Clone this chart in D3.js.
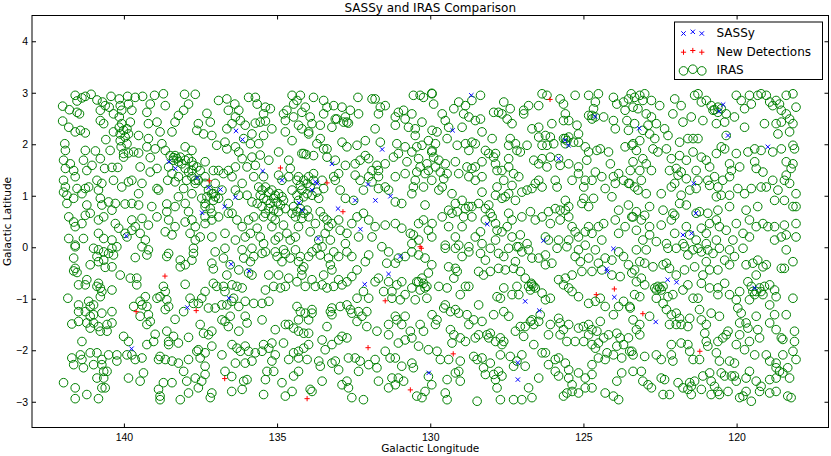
<!DOCTYPE html>
<html>
<head>
<meta charset="utf-8">
<script src="https://cdn.jsdelivr.net/npm/d3@7/dist/d3.min.js"></script>
<style>
  body { margin: 0; background: #fff; }
  svg { font-family: "DejaVu Sans", sans-serif; }
  .tick line { stroke: #000; }
  .tick text { font-size: 10.5px; fill: #000; }
  .domain { display: none; }
</style>
</head>
<body>
<div id="chart"></div>
<script>
// axis ticks
const lonTicks = [140, 135, 130, 125, 120];
const latTicks = [-3, -2, -1, 0, 1, 2, 3, 4];

// SASSy detections (galactic lon, lat)
const sassy = [
  [136.34,2.26],[136.13,2.09],[138.53,1.66],[138.32,1.53],[137.61,1.35],[137.23,1.16],
  [136.85,1.12],[136.71,0.79],[137.45,0.67],[139.92,0.22],[135.47,1.48],[134.84,1.30],
  [133.21,1.62],[131.57,1.90],[133.69,1.24],[133.86,1.11],[133.75,1.27],[134.29,0.86],
  [134.18,0.72],[133.01,0.75],[132.45,0.91],[132.03,1.22],[131.79,0.91],[131.30,0.99],
  [132.28,0.35],[133.66,0.17],[136.36,0.97],[128.66,2.95],[129.27,2.27],[124.62,2.54],
  [125.60,2.08],[125.49,1.98],[125.81,1.72],[128.14,0.45],[126.30,0.13],[123.18,2.31],
  [120.44,2.77],[120.57,2.64],[120.28,2.17],[118.98,1.95],[121.40,1.24],[121.33,0.66],
  [121.75,0.24],[121.47,0.27],[139.75,-1.97],[137.93,-1.17],[136.50,-0.33],[136.57,-0.99],
  [135.92,-0.46],[132.14,-0.72],[131.36,-0.52],[130.98,-0.18],[130.05,-2.44],[124.02,-0.03],
  [124.24,-0.42],[124.22,-0.47],[123.99,-0.97],[126.90,-1.05],[126.44,-1.23],[127.14,-2.24],
  [127.14,-2.57],[122.25,-0.63],[121.96,-0.68],[122.64,-1.45],[119.41,-0.79]
];

// new detections (galactic lon, lat)
const newDetections = [
  [137.21,1.29],[134.89,1.54],[133.37,1.25],[132.85,0.69],[130.33,0.01],[126.09,2.87],
  [138.66,-0.56],[139.60,-1.25],[137.64,-1.23],[136.71,-2.55],[130.29,-0.02],[131.47,-1.04],
  [132.03,-1.95],[130.65,-2.77],[134.02,-2.94],[129.25,-2.07],[121.20,-2.02],[123.99,-0.81],
  [124.58,-0.92],[123.06,-1.29]
];

// IRAS sources, split by sky region (galactic lon, lat)
const irasNorthEast = [
  [142.0,2.74],[141.78,2.67],[141.59,2.95],[141.53,2.84],[141.37,2.90],[141.26,2.93],[141.07,2.97],[140.88,2.86],
  [140.70,2.82],[140.42,2.93],[140.15,2.88],[140.12,2.75],[139.88,2.93],[139.63,2.91],[139.39,2.93],[139.14,2.78],
  [139.0,2.95],[138.71,2.98],[138.65,2.75],[138.02,2.97],[137.89,2.78],[137.67,2.97],[136.91,2.85],[136.64,2.88],
  [142.0,2.45],[141.53,2.62],[141.45,2.59],[140.77,2.66],[140.61,2.75],[140.48,2.72],[140.34,2.59],[140.07,2.66],
  [139.85,2.78],[139.74,2.66],[139.25,2.62],[139.20,2.40],[138.92,2.43],[138.33,2.43],[138.22,2.56],[138.05,2.66],
  [137.29,2.60],[137.18,2.43],[136.59,2.66],[141.80,2.33],[141.59,2.24],[141.26,2.22],[141.42,2.27],[140.77,2.46],
  [140.66,2.40],[140.15,2.53],[140.07,2.40],[139.90,2.30],[139.79,2.43],[140.12,2.20],[140.34,2.24],[140.12,2.07],
  [139.96,2.14],[139.90,2.01],[139.52,2.17],[139.20,2.11],[138.82,2.24],[138.43,2.24],[137.62,2.27],[137.40,2.20],
  [137.13,2.17],[137.57,2.40],[136.64,2.30],[141.93,2.01],[141.91,1.88],[141.26,1.88],[140.93,1.87],[140.59,2.09],
  [140.45,1.88],[140.09,1.95],[140.01,1.82],[139.85,1.83],[139.68,1.85],[139.52,1.83],[139.25,1.95],[138.98,1.91],
  [138.76,2.01],[138.65,1.88],[139.14,1.74],[138.33,1.78],[138.16,1.75],[138.0,1.95],[137.78,1.88],[137.35,1.66],
  [136.97,1.98],[136.64,1.91],[136.70,2.04],[141.97,1.69],[141.91,1.53],[141.75,1.62],[141.64,1.49],[141.59,1.37],
  [141.32,1.69],[141.21,1.49],[141.04,1.59],[140.77,1.72],[140.63,1.53],[140.39,1.55],[140.20,1.55],[140.01,1.75],
  [139.47,1.56],[139.14,1.46],[138.92,1.53],[138.54,1.56],[138.38,1.69],[138.43,1.43],[138.22,1.37],[138.0,1.53],
  [137.78,1.49],[137.57,1.30],[137.35,1.37],[137.08,1.49],[136.91,1.49],[136.75,1.43],[136.59,1.49],[141.97,1.30],
  [141.91,1.17],[141.86,1.01],[141.53,1.14],[141.37,1.04],[141.26,1.14],[141.15,1.17],[140.88,1.30],[140.83,1.11],
  [140.72,1.24],[140.34,1.30],[140.07,1.17],[139.85,1.27],[139.74,1.30],[139.52,1.04],[139.41,1.24],[138.92,1.14],
  [138.87,1.11],[138.57,1.30],[138.33,1.27],[138.05,1.14],[137.95,1.30],[137.67,1.24],[137.78,1.04],[137.02,1.24],
  [137.08,1.04],[136.80,1.11],[141.97,1.07],[141.86,0.85],[141.64,0.95],[141.21,0.82],[141.10,0.66],[140.77,0.95],
  [140.72,0.82],[140.50,0.88],[140.28,0.85],[139.96,0.84],[139.74,0.85],[139.52,0.82],[139.09,0.79],[138.60,0.84],
  [138.33,0.79],[138.22,0.98],[138.0,0.85],[137.89,0.69],[137.35,0.79],[137.08,0.91],[136.91,0.95],[136.59,0.85],
  [141.80,0.59],[141.64,0.49],[141.59,0.40],[141.37,0.46],[141.26,0.62],[140.83,0.53],[140.66,0.59],[140.39,0.72],
  [140.28,0.46],[140.17,0.37],[139.74,0.53],[139.63,0.40],[139.41,0.56],[139.20,0.43],[138.92,0.59],[138.60,0.69],
  [138.54,0.53],[138.33,0.40],[138.0,0.49],[137.78,0.53],[137.67,0.40],[137.35,0.46],[137.13,0.53],[136.91,0.59],
  [136.59,0.66],[141.80,0.17],[141.59,0.04],[141.32,0.17],[140.83,0.27],[140.66,0.17],[140.39,0.14],[139.96,0.27],
  [139.90,0.20],[139.74,0.33],[139.47,0.27],[139.30,0.14],[138.65,0.30],[138.43,0.24],[137.84,0.27],[137.67,0.14],
  [137.51,0.20],[137.13,0.20],[136.70,0.27],[138.49,1.78],[138.38,1.74],[138.27,1.72],[138.22,1.66],[138.11,1.62],
  [138.0,1.69],[137.89,1.72],[137.78,1.66],[137.73,1.59],[137.62,1.56],[137.51,1.49],[137.89,1.46],[137.78,1.37],
  [137.67,1.30],[137.35,1.24],[137.24,1.11],[137.13,1.04],[137.02,0.98],[137.29,0.98],[137.46,0.95],[137.35,0.85],
  [137.18,0.75],[137.13,0.66],[137.35,0.59],[140.01,2.27],[140.15,2.33],[139.85,2.20]
];

const irasNorthCentral = [
  [136.38,2.78],[136.25,2.66],[136.36,2.53],[135.93,2.91],[135.71,2.91],[135.65,2.78],[135.38,2.72],[135.22,2.69],
  [135.44,2.59],[134.79,2.59],[134.68,2.66],[134.51,2.95],[134.46,2.78],[134.35,2.85],[134.24,2.95],[134.19,2.62],
  [134.08,2.72],[133.81,2.91],[133.48,2.85],[133.37,2.72],[133.48,2.59],[133.15,2.75],[133.05,2.49],[132.88,2.72],
  [132.72,2.43],[132.77,2.53],[132.61,2.66],[132.34,2.59],[132.36,2.91],[131.90,2.88],[131.80,2.88],[131.69,2.59],
  [131.63,2.72],[131.47,2.75],[131.14,2.53],[131.04,2.62],[130.87,2.66],[130.60,2.59],[130.55,2.95],[130.33,2.95],
  [129.95,2.99],[130.22,2.91],[136.47,2.40],[136.20,2.46],[136.04,2.37],[135.71,2.41],[135.55,2.43],[135.38,2.45],
  [134.73,2.46],[134.46,2.53],[133.92,2.53],[133.86,2.40],[134.30,2.37],[134.19,2.30],[133.97,2.20],[133.59,2.37],
  [133.21,2.33],[133.10,2.49],[132.83,2.43],[132.67,2.41],[131.80,2.30],[131.14,2.37],[130.82,2.49],[130.71,2.33],
  [130.27,2.43],[130.49,2.30],[135.17,2.30],[135.44,2.17],[135.82,2.20],[135.87,2.01],[136.36,1.95],[136.09,2.11],
  [135.60,2.01],[134.73,2.24],[134.51,2.07],[134.13,1.82],[133.97,2.24],[133.59,2.11],[133.70,2.01],[133.48,1.91],
  [132.88,2.04],[132.72,1.95],[132.39,1.98],[132.12,2.07],[131.63,2.04],[131.09,2.01],[130.82,1.95],[130.49,2.17],
  [130.27,1.98],[130.06,2.07],[136.25,1.85],[136.14,1.72],[135.82,1.75],[135.55,1.79],[135.71,1.59],[135.27,1.69],
  [135.98,1.56],[136.36,1.56],[134.95,1.85],[134.62,1.69],[134.57,1.53],[134.19,1.82],[134.05,1.80],[133.81,1.78],
  [133.37,1.91],[133.37,1.75],[133.10,1.69],[132.77,1.59],[132.45,1.62],[132.29,1.69],[132.12,1.78],[132.01,1.72],
  [131.74,1.59],[131.90,1.49],[131.69,1.49],[131.47,1.62],[131.20,1.75],[131.04,1.82],[130.76,1.66],[130.60,1.85],
  [130.38,1.72],[130.33,1.56],[130.11,1.62],[129.95,1.85],[130.44,1.95],[130.06,1.49],[130.44,1.46],[136.47,1.37],
  [136.14,1.24],[135.76,1.37],[135.44,1.37],[134.95,1.40],[134.84,1.30],[134.62,1.37],[134.30,1.37],[133.97,1.37],
  [133.81,1.43],[133.53,1.30],[133.15,1.37],[132.99,1.43],[133.10,1.30],[132.45,1.40],[132.29,1.30],[132.01,1.37],
  [131.90,1.27],[131.69,1.37],[131.47,1.17],[131.14,1.37],[130.82,1.43],[130.49,1.30],[130.17,1.43],[129.95,1.30],
  [130.55,1.17],[130.22,1.17],[136.36,1.11],[136.25,1.01],[135.98,1.01],[135.82,0.88],[134.51,1.11],[134.35,1.01],
  [132.94,1.11],[132.77,0.95],[132.50,0.91],[132.18,1.11],[131.69,1.14],[131.36,1.11],[131.14,0.88],[130.60,1.04],
  [130.17,0.82],[130.93,0.85],[135.60,1.17],[135.49,1.11],[135.38,1.17],[135.27,1.07],[135.17,1.11],[135.06,1.01],
  [134.95,1.04],[134.84,0.98],[135.55,1.01],[135.44,0.95],[135.33,0.91],[135.22,0.85],[135.11,0.95],[135.0,0.88],
  [134.89,0.82],[134.79,0.91],[135.49,0.79],[135.27,0.75],[135.11,0.72],[134.95,0.69],[135.38,0.66],[134.73,0.75],
  [135.65,0.85],[135.44,0.59],[135.17,0.59],[134.35,1.30],[134.24,1.20],[134.13,1.30],[134.02,1.24],[133.92,1.17],
  [133.81,1.30],[134.19,1.11],[134.02,1.04],[133.86,1.01],[133.70,1.07],[134.13,0.98],[134.30,0.91],[133.64,0.95],
  [133.48,1.14],[134.46,0.79],[134.35,0.69],[134.24,0.75],[134.13,0.66],[134.02,0.72],[134.40,0.59],[134.19,0.56],
  [133.97,0.59],[134.51,0.66],[136.47,0.66],[136.31,0.53],[136.14,0.40],[135.93,0.53],[135.87,0.27],[135.65,0.37],
  [135.55,0.20],[135.44,0.07],[135.17,0.40],[135.06,0.53],[134.79,0.43],[134.95,0.20],[135.06,0.14],[134.68,0.27],
  [134.57,0.14],[134.40,0.20],[134.30,0.40],[133.92,0.30],[133.75,0.46],[133.59,0.69],[133.48,0.59],[133.37,0.53],
  [133.32,0.40],[133.21,0.46],[133.43,0.27],[133.26,0.14],[132.99,0.53],[132.94,0.33],[132.72,0.27],[132.56,0.46],
  [132.39,0.59],[132.18,0.66],[132.01,0.53],[131.80,0.40],[131.90,0.20],[131.47,0.43],[131.14,0.46],[130.93,0.37],
  [130.65,0.27],[130.38,0.46],[130.55,0.24],[130.22,0.53],[130.06,0.33],[130.38,0.14],[130.60,0.07],[129.95,0.20],
  [132.34,0.20],[132.77,0.07],[133.64,0.14],[135.76,0.59],[136.04,0.20],[136.36,0.14]
];

const irasNorthWest = [
  [129.94,2.98],[129.89,2.78],[129.07,2.82],[129.23,2.69],[128.85,2.75],[128.64,2.85],[128.36,2.95],[128.91,2.59],
  [128.74,2.53],[129.61,2.59],[129.51,2.46],[129.40,2.33],[128.96,2.33],[128.53,2.46],[128.31,2.24],[128.53,2.01],
  [128.36,2.49],[127.93,2.62],[127.77,2.62],[127.66,2.59],[127.60,2.82],[127.39,2.69],[127.49,2.49],[127.33,2.40],
  [126.95,2.66],[126.95,2.59],[126.79,2.75],[126.46,2.75],[126.35,2.98],[126.19,2.95],[126.03,2.40],[125.76,2.88],
  [125.65,2.78],[125.59,2.59],[125.65,2.46],[125.48,2.46],[125.27,2.95],[125.21,2.37],[125.16,2.20],[124.83,2.95],
  [124.61,2.82],[124.51,2.98],[124.67,2.69],[124.83,2.56],[124.72,2.49],[124.34,2.53],[124.02,2.91],[123.91,2.78],
  [123.69,2.82],[123.64,2.66],[123.53,2.88],[124.02,2.46],[123.96,2.30],[123.58,2.46],[123.53,2.27],[129.94,2.27],
  [129.78,2.24],[129.83,2.01],[129.45,2.11],[129.12,1.98],[128.85,2.01],[128.74,1.88],[128.64,2.04],[128.20,1.88],
  [128.09,1.82],[127.87,1.82],[127.98,2.11],[127.39,2.11],[127.44,1.98],[127.22,2.01],[127.17,1.88],[127.06,1.85],
  [126.68,2.30],[126.46,2.33],[126.84,1.98],[126.46,2.14],[126.24,2.17],[126.35,1.98],[126.08,2.14],[126.19,1.98],
  [125.97,2.01],[125.59,2.11],[125.48,2.14],[125.32,2.04],[125.16,2.04],[124.94,1.95],[124.83,1.85],[124.56,1.88],
  [124.45,1.91],[124.18,1.85],[123.64,1.95],[123.42,1.98],[129.94,1.88],[129.89,1.75],[129.83,1.56],[129.67,1.46],
  [129.56,1.33],[129.45,1.43],[129.72,1.69],[129.18,1.66],[129.51,1.62],[129.07,1.43],[128.80,1.56],[128.64,1.53],
  [128.53,1.56],[128.31,1.66],[128.74,1.37],[128.53,1.30],[128.31,1.37],[127.93,1.75],[127.87,1.62],[127.82,1.49],
  [127.44,1.72],[127.44,1.56],[127.66,1.49],[127.60,1.30],[127.28,1.43],[127.11,1.37],[126.62,1.69],[126.35,1.72],
  [126.46,1.62],[126.19,1.56],[126.08,1.75],[125.76,1.59],[125.48,1.62],[125.16,1.56],[124.89,1.69],[125.16,1.43],
  [124.94,1.30],[124.72,1.30],[124.61,1.46],[124.40,1.37],[124.12,1.62],[124.02,1.37],[123.69,1.30],[123.85,1.43],
  [123.53,1.24],[123.47,1.49],[129.72,1.11],[129.61,1.17],[129.29,1.04],[128.96,0.91],[129.18,0.85],[129.40,0.72],
  [129.12,0.69],[128.85,0.75],[128.74,0.79],[128.64,0.79],[128.31,1.07],[128.42,0.85],[128.20,0.75],[128.09,0.82],
  [127.82,1.17],[127.87,1.01],[127.66,0.95],[127.55,0.98],[127.33,1.20],[127.44,1.04],[127.22,0.91],[127.01,1.07],
  [126.84,1.11],[126.68,1.14],[126.57,1.24],[126.46,1.30],[126.35,1.17],[125.86,1.17],[125.92,1.30],[125.59,0.91],
  [125.48,0.79],[125.37,1.30],[124.99,1.17],[124.99,0.95],[124.67,0.95],[125.05,0.85],[124.83,0.79],[124.29,1.14],
  [123.96,1.24],[124.07,0.98],[123.85,0.72],[123.53,0.82],[129.94,0.46],[129.61,0.59],[129.29,0.66],[129.40,0.40],
  [129.18,0.20],[128.91,0.59],[128.96,0.40],[128.64,0.59],[128.53,0.20],[128.36,0.30],[128.20,0.53],[128.04,0.66],
  [127.98,0.59],[127.87,0.46],[127.82,0.33],[127.66,0.30],[127.44,0.66],[127.33,0.53],[127.49,0.40],[127.33,0.20],
  [127.01,0.59],[127.06,0.24],[126.73,0.69],[126.57,0.53],[126.35,0.59],[126.14,0.69],[126.08,0.46],[126.24,0.20],
  [125.92,0.75],[125.76,0.72],[125.59,0.72],[125.76,0.53],[125.48,0.59],[125.37,0.40],[125.27,0.30],[125.16,0.20],
  [124.94,0.30],[124.83,0.40],[124.72,0.27],[124.51,0.40],[124.34,0.46],[123.96,0.53],[123.85,0.27],[123.64,0.40],
  [123.42,0.59],[125.81,0.14],[125.48,0.14],[126.14,0.14],[126.84,0.07],[127.87,0.14],[129.51,0.04],[129.07,0.04],
  [128.74,0.01],[128.31,0.07],[127.11,0.01],[124.94,0.04],[124.40,0.14],[125.65,2.11],[125.54,2.07],[125.59,2.01],
  [124.72,2.56],[124.61,2.53],[125.81,1.72]
];

const irasNorthFar = [
  [123.44,2.98],[123.33,2.91],[123.16,2.95],[123.0,2.98],[123.38,2.72],[123.22,2.69],[123.06,2.85],[122.78,2.85],
  [122.51,2.75],[122.95,2.59],[122.78,2.53],[122.62,2.40],[122.89,2.37],[123.33,2.40],[123.06,2.27],[122.84,2.20],
  [122.67,2.11],[123.16,2.07],[123.38,2.01],[122.35,2.30],[122.24,2.17],[122.08,2.59],[122.02,2.88],[121.81,2.75],
  [121.75,2.43],[121.86,2.04],[121.59,2.11],[121.42,2.11],[121.26,2.11],[121.48,2.53],[121.37,2.95],[121.26,2.98],
  [121.15,2.82],[121.10,2.46],[120.99,2.85],[120.83,2.75],[120.77,2.66],[120.61,2.62],[120.66,2.40],[120.39,2.43],
  [120.34,2.59],[120.07,2.53],[120.01,2.95],[119.85,2.85],[119.74,2.69],[119.74,2.33],[119.58,2.95],[119.52,2.78],
  [119.31,2.95],[119.20,2.98],[119.03,2.95],[119.09,2.40],[118.92,2.82],[118.82,2.75],[118.71,2.85],[118.60,2.78],
  [118.38,2.95],[118.16,2.98],[118.06,2.72],[118.54,2.66],[118.38,2.59],[118.27,2.49],[118.16,2.40],[118.71,2.40],
  [118.65,2.20],[118.27,2.24],[118.54,2.43],[123.27,1.88],[123.06,1.72],[122.95,1.62],[122.73,1.91],[122.57,1.85],
  [122.78,1.49],[123.16,1.49],[123.38,1.66],[122.29,1.91],[122.13,1.72],[121.86,1.78],[121.64,1.69],[121.42,1.85],
  [121.15,1.75],[120.99,1.69],[120.88,1.56],[120.66,1.82],[120.50,1.95],[120.39,1.91],[120.23,1.62],[120.17,1.49],
  [119.90,1.56],[120.01,1.82],[119.63,1.85],[119.41,1.91],[119.20,1.88],[119.41,1.66],[119.36,1.53],[119.14,1.46],
  [118.82,1.85],[118.54,1.91],[118.38,1.66],[118.22,1.53],[118.16,1.98],[118.11,1.91],[122.19,1.49],[121.97,1.53],
  [121.81,1.46],[121.91,1.40],[121.32,1.49],[121.26,1.30],[120.94,1.30],[120.72,1.37],[120.61,1.17],[120.45,1.30],
  [120.23,1.37],[123.49,1.24],[123.33,1.17],[123.11,1.30],[123.22,1.11],[122.95,1.04],[122.46,1.04],[122.13,1.17],
  [122.02,1.24],[121.81,1.01],[121.53,1.11],[121.64,1.33],[121.32,1.14],[120.88,1.20],[120.66,0.98],[120.50,1.01],
  [120.23,1.01],[119.96,1.14],[119.74,1.04],[119.52,1.14],[119.20,1.17],[119.03,1.17],[118.82,1.30],[118.65,1.11],
  [118.44,1.30],[118.38,1.40],[118.27,1.24],[118.76,0.91],[118.44,0.91],[118.16,0.79],[119.31,0.79],[119.69,0.72],
  [120.23,0.79],[120.61,0.72],[120.94,0.66],[121.21,0.69],[121.64,0.82],[121.86,0.85],[122.08,0.66],[122.02,0.62],
  [122.40,0.72],[122.84,0.79],[123.0,0.62],[123.27,0.69],[123.38,0.59],[123.11,0.53],[123.27,0.33],[122.84,0.40],
  [122.46,0.43],[122.84,0.24],[123.06,0.14],[122.62,0.11],[122.29,0.07],[122.02,0.27],[122.13,0.53],[121.64,0.40],
  [121.53,0.24],[121.15,0.37],[120.99,0.27],[120.88,0.46],[120.66,0.53],[120.56,0.40],[120.34,0.33],[120.01,0.46],
  [119.79,0.27],[119.58,0.53],[119.36,0.40],[119.14,0.46],[118.98,0.40],[118.76,0.40],[118.44,0.43],[118.38,0.24],
  [118.06,0.20],[118.54,0.20],[118.76,0.14],[119.58,0.20],[120.12,0.14],[120.66,0.14],[120.99,0.07],[121.32,0.14],
  [121.75,0.07],[118.06,0.46],[118.06,0.79],[118.16,1.62],[118.06,1.04],[120.61,2.72],[120.50,2.69],[120.72,2.67],
  [120.34,2.17],[121.32,0.66]
];

const irasSouthEast = [
  [141.59,0.01],[140.99,-0.02],[140.83,-0.05],[140.66,-0.09],[140.39,-0.02],[140.23,0.01],[140.34,-0.15],[140.50,-0.12],
  [140.88,-0.18],[140.66,-0.25],[141.64,-0.21],[141.10,-0.34],[140.83,-0.28],[140.39,-0.38],[140.61,-0.39],[141.59,-0.41],
  [141.64,-0.46],[141.53,-0.49],[140.12,-0.54],[139.63,-0.20],[139.25,-0.15],[139.20,-0.05],[139.41,0.01],[138.54,-0.12],
  [138.60,-0.18],[138.16,-0.25],[138.0,-0.34],[137.73,-0.02],[138.16,-0.38],[137.78,-0.25],[137.73,-0.12],[137.13,-0.31],
  [137.02,-0.09],[137.08,-0.42],[136.70,-0.02],[136.75,-0.21],[136.64,-0.54],[136.53,-0.34],[136.75,-0.76],[141.48,-0.73],
  [141.26,-0.73],[141.21,-0.63],[140.83,-0.70],[140.77,-0.79],[140.88,-0.76],[140.72,-0.86],[140.77,-0.96],[140.39,-0.83],
  [139.79,-0.60],[139.58,-0.60],[139.58,-0.73],[138.0,-0.72],[137.35,-0.86],[137.08,-0.70],[136.97,-0.76],[136.70,-0.86],
  [136.80,-1.12],[136.64,-1.12],[136.48,-1.05],[141.83,-0.99],[141.48,-1.12],[141.15,-1.05],[141.10,-1.15],[140.99,-1.12],
  [141.26,-1.25],[141.10,-1.34],[140.99,-1.31],[141.48,-1.25],[141.21,-1.47],[140.99,-1.47],[140.72,-1.28],[140.39,-1.25],
  [141.48,-1.44],[141.70,-1.49],[140.83,-1.54],[140.77,-1.63],[140.55,-1.50],[140.39,-1.47],[140.55,-1.63],[141.10,-1.57],
  [139.68,-1.15],[139.47,-1.05],[139.41,-1.12],[139.30,-0.96],[139.25,-1.15],[139.20,-1.31],[139.14,-1.44],[139.25,-1.50],
  [139.47,-1.34],[138.92,-0.99],[138.82,-0.96],[138.65,-0.86],[138.60,-1.02],[138.54,-1.15],[138.65,-1.21],[138.71,-0.76],
  [138.33,-1.40],[138.05,-1.25],[137.84,-0.99],[137.73,-1.09],[137.57,-1.09],[137.46,-0.99],[137.24,-1.18],[137.02,-1.18],
  [137.51,-1.50],[137.40,-1.67],[137.24,-1.70],[137.13,-1.63],[136.80,-1.41],[136.70,-1.44],[136.59,-1.54],[136.53,-1.34],
  [141.37,-1.83],[140.01,-1.73],[139.85,-1.83],[139.74,-2.09],[139.25,-1.89],[139.03,-1.83],[138.98,-1.69],[138.60,-1.63],
  [138.54,-1.83],[138.38,-1.73],[138.54,-1.89],[138.22,-1.86],[137.89,-1.75],[137.62,-2.02],[137.57,-1.99],[137.35,-2.05],
  [137.13,-1.92],[137.51,-2.15],[136.80,-2.09],[141.70,-2.15],[141.64,-2.28],[141.42,-2.09],[141.37,-2.18],[141.32,-2.34],
  [141.10,-2.05],[140.99,-2.28],[140.88,-2.05],[140.72,-2.18],[140.72,-2.28],[140.66,-2.41],[140.55,-2.41],[140.50,-2.09],
  [140.23,-2.09],[140.23,-2.21],[139.90,-2.09],[139.63,-2.18],[139.41,-2.15],[138.82,-2.12],[138.87,-2.18],[138.65,-2.18],
  [138.43,-2.21],[138.22,-2.25],[137.89,-2.18],[138.05,-2.41],[137.95,-2.60],[137.67,-2.54],[137.46,-2.60],[137.35,-2.47],
  [137.35,-2.31],[136.70,-2.41],[136.48,-2.51],[141.97,-2.63],[141.59,-2.73],[141.21,-2.86],[140.88,-2.54],[140.66,-2.54],
  [140.72,-2.73],[140.61,-2.73],[139.85,-2.54],[139.47,-2.60],[139.36,-2.44],[138.87,-2.76],[138.82,-2.89],[138.82,-2.96],
  [138.71,-2.63],[138.43,-2.63],[138.16,-2.96],[137.89,-2.83],[137.57,-2.73],[137.13,-2.83],[137.18,-2.92],[136.48,-2.80],
  [141.59,-2.94],[140.83,-2.94]
];

const irasSouthCentral = [
  [136.14,-0.05],[135.82,-0.02],[136.09,-0.21],[135.87,-0.28],[135.76,-0.18],[136.25,-0.44],[135.93,-0.50],[135.82,-0.54],
  [135.49,-0.12],[135.38,-0.09],[135.06,-0.09],[135.0,-0.18],[134.79,-0.05],[134.73,-0.12],[134.57,-0.21],[134.84,-0.28],
  [134.40,-0.05],[134.24,-0.18],[134.30,-0.28],[134.13,-0.38],[134.19,-0.44],[133.97,-0.18],[133.86,-0.09],[133.70,-0.02],
  [133.53,0.01],[133.59,-0.15],[133.32,-0.21],[133.15,-0.09],[132.99,-0.18],[132.72,-0.09],[132.56,-0.18],[132.39,-0.44],
  [132.01,-0.15],[132.12,-0.28],[131.58,0.01],[131.36,-0.09],[131.42,-0.31],[131.14,-0.31],[131.04,-0.21],[130.82,-0.18],
  [130.60,-0.09],[130.38,-0.15],[130.17,-0.21],[129.95,-0.34],[130.06,-0.50],[136.47,-0.73],[136.31,-0.76],[136.14,-0.79],
  [136.42,-0.99],[136.25,-1.15],[136.04,-1.05],[135.76,-1.09],[135.49,-1.09],[135.27,-1.05],[135.38,-0.83],[135.27,-0.54],
  [134.95,-0.54],[135.11,-0.76],[134.89,-0.79],[134.73,-0.76],[134.62,-0.60],[134.35,-0.67],[134.19,-0.54],[133.86,-0.63],
  [134.08,-0.76],[133.75,-0.76],[133.53,-0.73],[133.48,-0.54],[133.21,-0.44],[133.26,-0.34],[133.37,-0.79],[133.15,-0.76],
  [132.99,-0.63],[132.88,-0.73],[132.72,-0.67],[132.56,-0.57],[132.39,-0.99],[132.18,-0.86],[132.01,-0.99],[131.80,-0.67],
  [131.69,-0.60],[131.52,-0.86],[131.36,-0.67],[131.25,-0.86],[131.09,-0.73],[130.93,-0.67],[130.82,-0.92],[130.60,-0.79],
  [130.44,-0.67],[130.27,-0.60],[130.17,-0.79],[130.11,-0.99],[130.49,-1.02],[130.98,-1.02],[131.25,-0.99],[134.35,-1.15],
  [134.24,-1.25],[134.08,-1.28],[133.86,-1.28],[133.86,-1.21],[134.30,-1.41],[133.97,-1.41],[134.46,-1.57],[134.30,-1.63],
  [134.13,-1.67],[133.97,-1.67],[134.62,-1.50],[134.73,-1.50],[135.06,-1.60],[135.49,-1.41],[136.04,-1.34],[135.98,-1.47],
  [136.25,-1.63],[133.37,-1.54],[133.26,-1.25],[133.21,-1.31],[133.21,-1.18],[132.94,-1.15],[132.72,-1.12],[132.61,-1.21],
  [132.56,-1.28],[132.34,-1.25],[132.39,-1.44],[132.23,-1.34],[132.07,-1.25],[132.07,-1.54],[131.74,-1.63],[131.36,-1.50],
  [131.14,-1.34],[131.09,-1.41],[130.93,-1.50],[130.82,-1.34],[130.65,-1.63],[130.60,-1.76],[130.33,-1.50],[130.22,-1.63],
  [130.38,-1.92],[130.06,-1.99],[130.82,-1.80],[131.04,-1.86],[131.36,-1.70],[136.47,-1.89],[136.31,-1.96],[136.04,-1.92],
  [136.20,-2.02],[135.93,-2.02],[135.71,-2.05],[135.44,-1.89],[135.27,-1.96],[135.17,-1.86],[135.06,-2.09],[135.17,-2.21],
  [135.11,-2.41],[135.33,-2.41],[135.49,-2.02],[136.36,-2.25],[136.04,-2.25],[135.82,-2.21],[135.98,-2.57],[136.09,-2.60],
  [135.38,-2.57],[134.79,-1.86],[134.62,-2.18],[134.46,-2.05],[134.30,-2.02],[134.13,-1.96],[133.97,-1.89],[134.02,-2.18],
  [134.30,-2.41],[134.46,-2.50],[134.84,-2.63],[134.51,-2.80],[133.92,-2.76],[133.86,-2.80],[133.53,-2.60],[133.53,-1.80],
  [133.43,-1.99],[133.21,-1.89],[132.99,-1.80],[132.88,-1.73],[132.72,-1.76],[133.10,-2.21],[133.21,-2.25],[132.99,-2.38],
  [132.67,-2.15],[132.45,-2.15],[132.29,-2.21],[132.34,-2.41],[132.72,-2.60],[132.88,-2.67],[132.67,-2.73],[132.56,-2.92],
  [132.18,-2.96],[132.01,-2.28],[131.80,-2.18],[131.74,-2.34],[131.69,-2.60],[131.47,-2.02],[131.31,-2.15],[131.14,-2.15],
  [130.93,-2.31],[130.60,-2.25],[130.55,-2.34],[131.04,-2.54],[131.25,-2.54],[131.36,-2.73],[130.87,-2.60],[131.14,-2.67],
  [130.44,-2.89],[130.27,-2.92],[130.17,-2.80],[129.95,-2.67],[130.06,-2.51],[134.30,-2.15],[133.64,-2.21],[133.59,-2.31],
  [136.14,-2.76],[135.44,-2.86],[134.73,-2.89],[130.38,-0.67],[130.22,-0.70],[130.11,-0.76],[130.33,-0.83]
];

const irasSouthWest = [
  [129.51,-0.02],[129.18,-0.02],[128.96,-0.18],[128.74,-0.09],[128.36,-0.12],[128.20,-0.25],[128.04,-0.02],[127.77,-0.12],
  [127.60,-0.18],[127.44,-0.02],[127.17,0.01],[127.22,-0.28],[127.01,-0.09],[126.79,-0.05],[126.68,-0.21],[126.46,-0.21],
  [126.24,-0.15],[126.24,-0.34],[126.03,-0.31],[125.86,-0.02],[125.54,0.01],[125.16,-0.05],[125.27,-0.18],[125.10,-0.28],
  [124.83,-0.21],[124.61,-0.05],[124.51,-0.31],[124.29,-0.21],[124.07,-0.25],[123.85,-0.09],[123.69,-0.18],[123.53,-0.34],
  [123.42,-0.50],[123.80,-0.57],[124.07,-0.54],[124.40,-0.44],[124.72,-0.47],[125.05,-0.47],[125.37,-0.54],[125.59,-0.60],
  [125.81,-0.63],[129.40,-0.38],[129.18,-0.41],[129.12,-0.47],[129.23,-0.60],[129.72,-0.76],[129.45,-0.79],[128.85,-0.76],
  [128.74,-0.76],[129.02,-0.92],[128.42,-0.47],[128.26,-0.54],[128.04,-0.47],[127.77,-0.41],[127.55,-0.44],[127.28,-0.41],
  [127.06,-0.47],[126.90,-0.60],[126.68,-0.73],[126.57,-0.79],[126.73,-0.83],[127.17,-0.76],[127.60,-0.79],[127.82,-0.96],
  [127.71,-0.99],[127.33,-0.92],[127.11,-0.92],[126.35,-0.89],[126.24,-1.02],[126.08,-0.99],[125.65,-0.73],[125.48,-0.79],
  [125.37,-0.86],[125.16,-0.96],[124.83,-1.09],[124.61,-1.05],[124.45,-0.99],[124.29,-1.15],[123.85,-1.15],[123.69,-1.05],
  [123.47,-1.18],[129.94,-1.31],[129.78,-1.41],[129.83,-1.50],[129.51,-1.12],[129.56,-1.18],[129.34,-1.25],[129.18,-1.21],
  [129.07,-1.28],[128.80,-1.31],[128.74,-1.50],[128.58,-1.41],[128.42,-1.12],[128.31,-1.44],[127.93,-1.31],[127.60,-1.25],
  [127.44,-1.34],[128.42,-1.70],[128.15,-1.70],[128.04,-1.67],[128.09,-1.76],[128.53,-1.76],[129.02,-1.76],[129.23,-1.70],
  [129.34,-1.60],[129.29,-1.86],[128.85,-1.83],[129.78,-2.02],[129.67,-2.18],[129.40,-2.18],[129.02,-2.21],[129.07,-2.41],
  [129.18,-2.44],[129.45,-2.57],[129.02,-2.60],[129.51,-2.83],[129.45,-2.96],[127.22,-1.63],[127.06,-1.54],[126.95,-1.73],
  [126.90,-1.54],[126.73,-1.44],[126.68,-1.41],[126.62,-1.50],[126.46,-1.44],[126.41,-1.31],[126.08,-1.50],[125.81,-1.38],
  [125.76,-1.47],[125.65,-1.60],[125.48,-1.50],[125.16,-1.57],[125.0,-1.54],[124.83,-1.50],[124.72,-1.60],[124.56,-1.63],
  [124.45,-1.44],[124.34,-1.76],[124.18,-1.70],[124.02,-1.31],[123.91,-1.67],[123.80,-1.76],[123.69,-1.89],[123.53,-1.76],
  [123.42,-2.02],[124.83,-1.70],[124.99,-1.83],[125.27,-1.83],[125.54,-1.83],[125.76,-1.70],[126.14,-1.70],[126.24,-2.05],
  [126.62,-1.89],[127.01,-2.09],[127.17,-2.21],[127.39,-2.12],[127.71,-1.76],[127.66,-1.89],[127.60,-1.83],[127.87,-1.83],
  [127.71,-2.09],[128.04,-2.25],[128.31,-2.15],[128.47,-2.18],[128.58,-2.12],[128.26,-2.34],[128.20,-2.47],[127.93,-2.47],
  [127.87,-2.57],[127.77,-2.41],[127.66,-2.50],[127.28,-2.31],[126.90,-2.31],[126.46,-2.54],[126.79,-2.73],[126.68,-2.92],
  [127.01,-2.96],[127.28,-2.96],[127.71,-2.96],[128.47,-2.99],[127.82,-2.73],[126.35,-2.05],[126.14,-2.28],[125.92,-2.18],
  [125.81,-2.15],[125.59,-2.25],[125.48,-2.38],[125.48,-2.54],[125.37,-2.67],[125.37,-2.80],[125.54,-2.83],[125.65,-2.89],
  [125.92,-2.41],[125.81,-2.50],[125.16,-2.44],[124.94,-2.54],[124.72,-2.47],[124.72,-2.28],[124.51,-2.15],[124.29,-2.18],
  [124.23,-2.05],[124.02,-2.09],[123.91,-1.92],[123.75,-2.15],[123.75,-2.44],[123.91,-2.60],[124.29,-2.83],[124.02,-2.89],
  [123.85,-2.96],[124.72,-2.73],[124.94,-2.73],[125.16,-2.83],[124.61,-1.96],[124.51,-1.86],[124.72,-1.89],[126.79,-0.76],
  [126.62,-0.76],[126.70,-0.70]
];

const irasSouthFar = [
  [123.27,-0.05],[122.95,-0.05],[123.16,-0.28],[123.0,-0.31],[123.33,-0.44],[122.73,-0.38],[122.40,-0.34],[122.29,-0.31],
  [122.19,-0.41],[122.24,-0.02],[121.97,-0.02],[121.70,0.01],[121.59,-0.15],[121.42,-0.05],[121.26,-0.02],[121.15,-0.09],
  [120.94,-0.05],[120.77,-0.12],[120.56,-0.02],[120.23,-0.05],[120.39,-0.25],[120.23,-0.34],[120.07,-0.18],[119.79,-0.02],
  [119.69,-0.34],[119.47,-0.31],[119.31,-0.25],[119.14,-0.38],[119.03,-0.34],[118.54,-0.41],[118.38,-0.05],[118.44,-0.41],
  [118.16,-0.28],[120.99,-0.28],[120.88,-0.44],[120.61,-0.44],[121.37,-0.38],[121.70,-0.44],[121.97,-0.54],[123.27,-0.67],
  [123.11,-0.60],[123.0,-0.73],[123.33,-0.92],[123.16,-0.96],[122.67,-0.79],[122.51,-0.79],[122.40,-0.76],[122.62,-0.99],
  [122.24,-0.96],[122.40,-1.09],[122.08,-0.92],[121.75,-0.83],[121.59,-0.73],[121.42,-0.99],[121.26,-0.99],[121.15,-0.70],
  [121.10,-0.54],[120.88,-0.79],[120.61,-0.79],[120.39,-0.70],[120.61,-0.92],[120.23,-0.92],[119.90,-0.86],[119.63,-0.67],
  [119.36,-0.54],[119.25,-0.79],[119.14,-0.92],[119.41,-0.92],[119.58,-1.02],[118.92,-0.73],[118.76,-0.83],[118.71,-0.96],
  [118.16,-0.99],[118.92,-1.12],[120.01,-1.02],[119.96,-1.18],[119.85,-1.28],[123.49,-1.15],[123.38,-1.41],[123.16,-1.50],
  [123.27,-1.60],[123.16,-1.70],[122.84,-1.34],[122.29,-1.21],[122.13,-1.31],[121.97,-1.28],[121.86,-1.38],[121.81,-1.50],
  [121.97,-1.50],[122.19,-1.50],[121.59,-1.54],[121.53,-1.38],[121.21,-1.21],[121.15,-1.41],[120.99,-1.50],[121.04,-1.67],
  [120.83,-1.28],[120.56,-1.34],[120.28,-1.63],[120.34,-1.70],[120.45,-1.76],[120.61,-1.83],[119.90,-1.47],[119.69,-1.47],
  [119.63,-1.57],[119.36,-1.34],[119.31,-1.60],[119.25,-1.76],[118.92,-1.47],[118.76,-1.31],[118.71,-1.60],[118.54,-1.76],
  [118.49,-1.79],[118.38,-1.31],[118.11,-1.63],[118.11,-1.83],[119.58,-1.83],[119.90,-1.70],[120.01,-1.89],[119.74,-1.99],
  [123.49,-2.02],[123.38,-2.09],[123.0,-2.12],[122.62,-2.09],[122.46,-2.18],[122.13,-2.09],[122.08,-2.21],[122.13,-1.89],
  [121.81,-1.86],[121.59,-1.89],[121.53,-2.02],[121.42,-2.18],[121.21,-2.18],[120.99,-1.83],[120.94,-1.92],[120.66,-2.05],
  [120.56,-2.21],[120.23,-2.21],[120.07,-2.25],[119.41,-2.09],[119.03,-2.09],[118.92,-2.21],[118.71,-2.25],[118.49,-2.09],
  [118.16,-2.02],[118.06,-2.18],[118.33,-2.34],[118.71,-2.34],[118.60,-2.41],[123.38,-2.41],[123.11,-2.41],[123.06,-2.60],
  [122.89,-2.67],[122.78,-2.73],[122.46,-2.54],[122.35,-2.57],[122.40,-2.86],[122.19,-2.86],[121.91,-2.63],[121.75,-2.73],
  [121.59,-2.76],[121.53,-2.63],[121.48,-2.70],[121.37,-2.60],[121.10,-2.50],[120.88,-2.44],[120.83,-2.60],[120.72,-2.70],
  [120.61,-2.80],[120.50,-2.44],[120.39,-2.50],[120.28,-2.80],[120.17,-2.50],[120.07,-2.50],[120.01,-2.60],[119.69,-2.54],
  [119.58,-2.41],[119.36,-2.60],[119.20,-2.70],[118.92,-2.57],[118.71,-2.54],[118.49,-2.44],[118.27,-2.54],[118.71,-2.80],
  [118.92,-2.83],[118.33,-2.89],[118.22,-2.92],[119.25,-2.80],[119.69,-2.80],[119.79,-2.89],[119.52,-2.99],[119.90,-2.92],
  [120.56,-2.86],[120.83,-2.86],[121.15,-2.76],[121.48,-2.86],[122.62,-0.83],[122.46,-0.83],[122.57,-0.76],[119.52,-0.76],
  [119.36,-0.86],[119.20,-0.86],[119.09,-0.76],[119.47,-0.86]
];

const iras = [].concat(irasNorthEast, irasNorthCentral, irasNorthWest, irasNorthFar,
  irasSouthEast, irasSouthCentral, irasSouthWest, irasSouthFar);

// layout
const width = 831, height = 456;
const margin = { top: 15.5, right: 2.5, bottom: 28.5, left: 32 };
const W = width - margin.left - margin.right;
const H = height - margin.top - margin.bottom;

const svg = d3.select('#chart')
  .append('svg')
  .attr('width', width)
  .attr('height', height);

const g = svg.append('g')
  .attr('transform', `translate(${margin.left},${margin.top})`);

// scales (longitude runs right to left)
const x = d3.scaleLinear().domain([143, 117]).range([0, W]);
const y = d3.scaleLinear().domain([-3.5, 4.5]).range([H, 0]);

// IRAS circles
g.append('g')
  .selectAll('circle')
  .data(iras)
  .enter()
  .append('circle')
  .attr('cx', (d) => x(d[0]))
  .attr('cy', (d) => y(d[1]))
  .attr('r', 4.3)
  .attr('fill', 'none')
  .attr('stroke', '#008000')
  .attr('stroke-width', 1);

// new detections: red plus
const plus = (s) => `M${-s},0H${s}M0,${-s}V${s}`;
const cross = (s) => `M${-s},${-s}L${s},${s}M${-s},${s}L${s},${-s}`;

g.append('g')
  .selectAll('path')
  .data(newDetections)
  .enter()
  .append('path')
  .attr('transform', (d) => `translate(${x(d[0])},${y(d[1])})`)
  .attr('d', plus(2.6))
  .attr('stroke', '#ff0000')
  .attr('stroke-width', 1);

// SASSy: blue cross
g.append('g')
  .selectAll('path')
  .data(sassy)
  .enter()
  .append('path')
  .attr('transform', (d) => `translate(${x(d[0])},${y(d[1])})`)
  .attr('d', cross(2.2))
  .attr('stroke', '#0000ff')
  .attr('stroke-width', 1);

// axes with inward ticks on all four sides
g.append('g')
  .attr('transform', `translate(0,${H})`)
  .call(d3.axisBottom(x).tickValues(lonTicks).tickSizeInner(-4).tickSizeOuter(0).tickPadding(6));
g.append('g')
  .call(d3.axisTop(x).tickValues(lonTicks).tickSizeInner(-4).tickSizeOuter(0).tickFormat(''));
g.append('g')
  .call(d3.axisLeft(y).tickValues(latTicks).tickSizeInner(-4).tickSizeOuter(0).tickPadding(4));
g.append('g')
  .attr('transform', `translate(${W},0)`)
  .call(d3.axisRight(y).tickValues(latTicks).tickSizeInner(-4).tickSizeOuter(0).tickFormat(''));

// frame
g.append('rect')
  .attr('width', W)
  .attr('height', H)
  .attr('fill', 'none')
  .attr('stroke', '#000')
  .attr('stroke-width', 1);

// title and labels
svg.append('text')
  .attr('x', margin.left + W / 2)
  .attr('y', 12)
  .attr('text-anchor', 'middle')
  .attr('font-size', 12)
  .text('SASSy and IRAS Comparison');

svg.append('text')
  .attr('x', margin.left + W / 2)
  .attr('y', 452)
  .attr('text-anchor', 'middle')
  .attr('font-size', 10.5)
  .text('Galactic Longitude');

svg.append('text')
  .attr('transform', `translate(11,${margin.top + H / 2}) rotate(-90)`)
  .attr('text-anchor', 'middle')
  .attr('font-size', 10.5)
  .text('Galactic Latitude');

// legend
const legend = svg.append('g').attr('transform', 'translate(674.5,22)');
legend.append('rect')
  .attr('width', 148)
  .attr('height', 57.5)
  .attr('fill', '#fff')
  .attr('stroke', '#000')
  .attr('stroke-width', 1);

const legendItems = [
  { label: 'SASSy', kind: 'sassy' },
  { label: 'New Detections', kind: 'new' },
  { label: 'IRAS', kind: 'iras' },
];
const sampleX = [9, 18.3, 27.3];
const sampleDy = [1, -0.7, 1];

legendItems.forEach((item, i) => {
  const cy = 10.5 + i * 18.7;
  const row = legend.append('g').attr('transform', `translate(0,${cy})`);
  sampleX.forEach((sx, j) => {
    const t = `translate(${sx},${sampleDy[j]})`;
    if (item.kind === 'sassy') {
      row.append('path').attr('transform', t).attr('d', cross(2.2))
        .attr('stroke', '#0000ff').attr('stroke-width', 1);
    } else if (item.kind === 'new') {
      row.append('path').attr('transform', t).attr('d', plus(2.6))
        .attr('stroke', '#ff0000').attr('stroke-width', 1);
    } else {
      row.append('circle').attr('transform', t).attr('r', 4.3)
        .attr('fill', 'none').attr('stroke', '#008000').attr('stroke-width', 1);
    }
  });
  row.append('text')
    .attr('x', 42)
    .attr('y', 4.3)
    .attr('font-size', 12)
    .text(item.label);
});
</script>
</body>
</html>
